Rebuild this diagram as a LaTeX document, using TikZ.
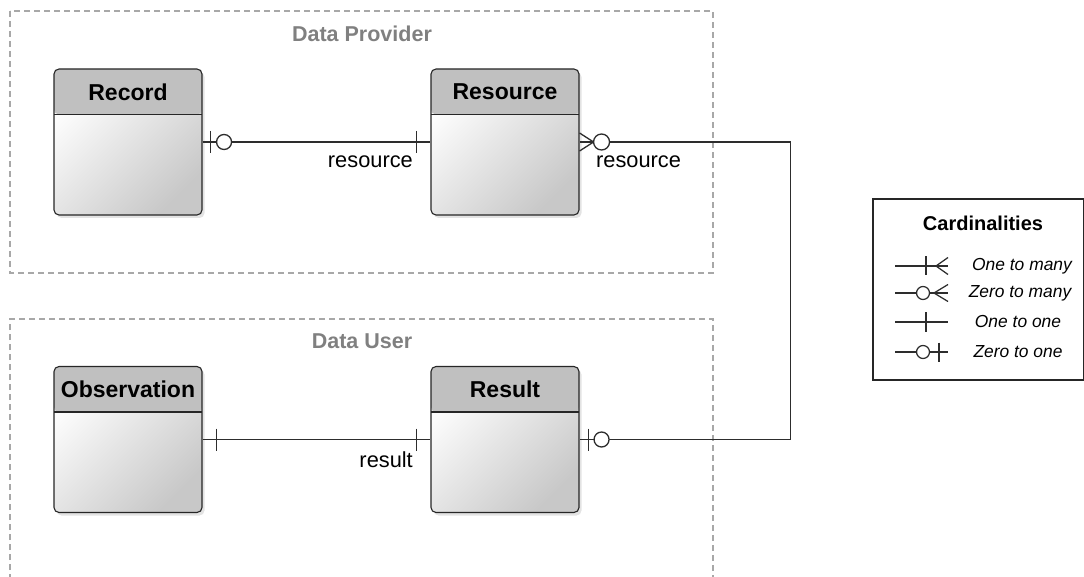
\documentclass[tikz,border=0pt]{standalone}
\usepackage{fontspec}
\setmainfont{Liberation Sans}
\usetikzlibrary{shadows,calc}
\definecolor{headgray}{RGB}{192,192,192}
\definecolor{bodygray}{RGB}{200,200,200}
\definecolor{grouplabel}{RGB}{128,128,128}
\definecolor{groupline}{RGB}{168,168,168}
\definecolor{conncol}{RGB}{45,45,45}
\tikzset{
  entity/.style={draw=black!85, line width=1.1pt, rounded corners=5pt,
    minimum width=148pt, minimum height=146pt, inner sep=0pt,
    top color=white, bottom color=bodygray, shading angle=45,
    drop shadow={opacity=0.22, shadow xshift=2.5pt, shadow yshift=-3pt},
    path picture={
      \fill[headgray] (path picture bounding box.north west) rectangle ([yshift=-45.5pt]path picture bounding box.north east);
      \draw[black!85, line width=1.1pt] ([yshift=-45.5pt]path picture bounding box.north west) -- ([yshift=-45.5pt]path picture bounding box.north east);
    }},
  etitle/.style={font=\fontsize{23}{26}\selectfont\bfseries, text=black, anchor=center, inner sep=0pt},
  group/.style={draw=groupline, dash pattern=on 6pt off 4pt, line width=1.1pt},
  glabel/.style={font=\fontsize{21.5}{24}\selectfont\bfseries, text=grouplabel, inner sep=0pt},
  conn/.style={draw=conncol, line width=1.3pt},
  legline/.style={draw=conncol, line width=1.25pt},
  rlabel/.style={font=\fontsize{21.8}{24}\selectfont, inner sep=0pt},
  legtext/.style={font=\fontsize{17.4}{20}\selectfont\itshape, inner sep=0pt},
}
\begin{document}
\begin{tikzpicture}[x=1pt,y=-1pt]
\useasboundingbox (0,0) rectangle (1084,577);
\clip (0,0) rectangle (1084,577);

% groups
\draw[group] (10,11) rectangle (713,273);
\node[glabel] (gprov) at (362,34) {Data Provider};
\draw[group] (10,600) -- (10,319) -- (713,319) -- (713,600);
\node[glabel] (guser) at (362,341) {Data User};

% entities
\node[entity] (rec) at (128,142) {};
\node[etitle] (rect) at (128,92) {Record};
\node[entity] (res) at (505,142) {};
\node[etitle] (rest) at (505,92) {Resource};
\node[entity] (obs) at (128,439.5) {};
\node[etitle] (obst) at (128,389.5) {Observation};
\node[entity] (rsl) at (505,439.5) {};
\node[etitle] (rslt) at (505,389.5) {Result};

% Record -- Resource
\draw[conn] (rec.east) -- (res.west);
\draw[conn] ($(rec.east)+(8,-11)$) -- ++(0,22);
\draw[conn,fill=white] ($(rec.east)+(21.5,0)$) circle (7.5pt);
\draw[conn] ($(res.west)+(-14,-11)$) -- ++(0,22);
\node[rlabel, anchor=east] (lres1) at (413,162) {resource};

% Resource -- Result
\draw[conn] (res.east) -- ++(211,0) |- (rsl.east);
\draw[conn] ($(res.east)+(0,-9)$) -- ($(res.east)+(14,0)$) -- ($(res.east)+(0,9)$);
\draw[conn,fill=white] ($(res.east)+(22,0)$) circle (8pt);
\node[rlabel, anchor=west] (lres2) at (596,162) {resource};
\draw[conn] ($(rsl.east)+(9,-11)$) -- ++(0,22);
\draw[conn,fill=white] ($(rsl.east)+(22,0)$) circle (7.5pt);

% Observation -- Result
\draw[conn] (obs.east) -- (rsl.west);
\draw[conn] ($(obs.east)+(14,-11)$) -- ++(0,22);
\draw[conn] ($(rsl.west)+(-14,-11)$) -- ++(0,22);
\node[rlabel, anchor=east] (lrsl) at (413,460) {result};

% legend
\draw[black!85, line width=1.1pt] (873,199) rectangle (1083.5,380);
\node[font=\fontsize{20}{23}\selectfont\bfseries, inner sep=0pt] (ltitle) at (983,223) {Cardinalities};
% one to many
\draw[legline] (895,266) -- (948,266);
\draw[legline] (926,256.5) -- (926,275.5);
\draw[legline] (948,257.5) -- (936,266) -- (948,274.5);
\node[legtext] (l1) at (1022,266) {One to many};
% zero to many
\draw[legline] (895,293) -- (948,293);
\draw[legline] (948,284.5) -- (934,293) -- (948,301.5);
\draw[legline, fill=white] (923,293) circle (6.5pt);
\node[legtext] (l2) at (1020,293) {Zero to many};
% one to one
\draw[legline] (895,322) -- (948,322);
\draw[legline] (926,312) -- (926,332);
\node[legtext] (l3) at (1018,322) {One to one};
% zero to one
\draw[legline] (895,352) -- (948,352);
\draw[legline] (939,342.5) -- (939,361.5);
\draw[legline, fill=white] (923,352) circle (6.5pt);
\node[legtext] (l4) at (1018,352) {Zero to one};
\end{tikzpicture}
\end{document}
